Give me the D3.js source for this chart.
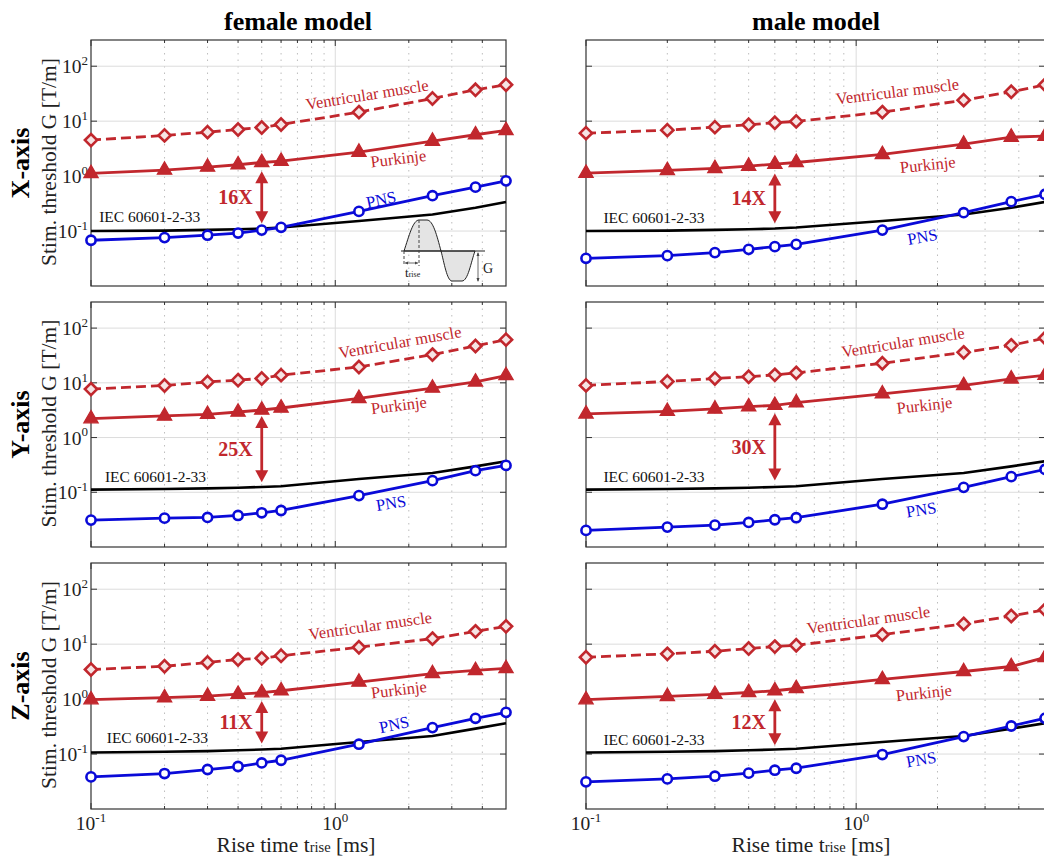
<!DOCTYPE html>
<html lang="en">
  <head>
    <meta charset="utf-8">
    <script src="https://cdn.jsdelivr.net/npm/d3@7/dist/d3.min.js"></script>
    <style>
      body { margin: 0; background: #fff; }
      text { font-family: "Liberation Serif", "Times New Roman", serif; }
    </style>
  </head>
  <body>
    <script type="text/javascript">

      // Data
      var riseTime = [0.1, 0.2, 0.3, 0.4, 0.5, 0.6, 1.25, 2.5, 3.75, 5];
      var models = ["female model", "male model"];
      var axesNames = ["X-axis", "Y-axis", "Z-axis"];
      var xTicks = [0.1, 1];
      var yTicks = [0.1, 1, 10, 100];

      // IEC 60601-2-33 limit, one per gradient axis
      var iecX = [0.100, 0.102, 0.105, 0.108, 0.111, 0.116, 0.152, 0.200, 0.266, 0.338];
      var iecY = [0.112, 0.115, 0.118, 0.121, 0.125, 0.129, 0.175, 0.225, 0.297, 0.370];
      var iecZ = [0.107, 0.110, 0.113, 0.117, 0.121, 0.125, 0.166, 0.213, 0.290, 0.365];

      // female model
      var ventFemX = [4.52, 5.50, 6.31, 7.06, 7.67, 8.71, 14.6, 25.9, 37.2, 45.9];
      var purkFemX = [1.12, 1.29, 1.46, 1.61, 1.77, 1.87, 2.73, 4.33, 5.66, 6.78];
      var pnsFemX  = [0.068, 0.076, 0.084, 0.092, 0.104, 0.117, 0.228, 0.44, 0.63, 0.82];
      var ventFemY = [7.68, 8.95, 10.4, 11.2, 12.0, 13.8, 19.5, 32.8, 47.1, 61.5];
      var purkFemY = [2.21, 2.48, 2.66, 2.93, 3.19, 3.47, 5.20, 8.02, 10.4, 13.6];
      var pnsFemY  = [0.031, 0.0337, 0.0347, 0.0377, 0.0422, 0.0465, 0.087, 0.163, 0.248, 0.310];
      var ventFemZ = [3.46, 3.97, 4.63, 5.26, 5.55, 6.14, 8.79, 12.6, 17.1, 21.1];
      var purkFemZ = [0.975, 1.06, 1.13, 1.23, 1.31, 1.42, 2.04, 2.92, 3.32, 3.61];
      var pnsFemZ  = [0.0384, 0.0442, 0.0523, 0.0593, 0.0689, 0.0771, 0.151, 0.303, 0.447, 0.574];

      // male model
      var ventMalX = [6.05, 6.86, 7.78, 8.61, 9.36, 9.89, 14.6, 24.1, 34.3, 45.9];
      var purkMalX = [1.13, 1.27, 1.38, 1.52, 1.65, 1.77, 2.48, 3.82, 5.12, 5.34];
      var pnsMalX  = [0.0319, 0.0357, 0.0405, 0.0465, 0.052, 0.0573, 0.104, 0.216, 0.343, 0.465];
      var ventMalY = [8.97, 10.6, 12.0, 12.9, 14.0, 15.2, 22.8, 36.1, 48.4, 65.8];
      var purkMalY = [2.70, 3.02, 3.33, 3.66, 3.88, 4.33, 6.31, 8.97, 11.8, 13.8];
      var pnsMalY  = [0.0201, 0.0231, 0.0251, 0.0281, 0.0315, 0.0343, 0.0605, 0.123, 0.193, 0.262];
      var ventMalZ = [5.78, 6.67, 7.43, 8.32, 9.04, 9.55, 14.9, 23.4, 32.6, 42.4];
      var purkMalZ = [0.975, 1.12, 1.22, 1.32, 1.42, 1.56, 2.28, 3.18, 3.92, 5.71];
      var pnsMalZ  = [0.0312, 0.0353, 0.0395, 0.0449, 0.0508, 0.0552, 0.098, 0.208, 0.324, 0.447];

      // safety margin annotation (Purkinje vs IEC at 0.5 ms)
      var ratioLabels = ["16X", "14X", "25X", "30X", "11X", "12X"];
      var arrowTop    = [1.23, 1.12, 2.48, 2.78, 0.92, 0.99];
      var arrowBottom = [0.138, 0.138, 0.152, 0.165, 0.155, 0.145];

      var panelData = [
        [ventFemX, purkFemX, pnsFemX, iecX], [ventMalX, purkMalX, pnsMalX, iecX],
        [ventFemY, purkFemY, pnsFemY, iecY], [ventMalY, purkMalY, pnsMalY, iecY],
        [ventFemZ, purkFemZ, pnsFemZ, iecZ], [ventMalZ, purkMalZ, pnsMalZ, iecZ]
      ];

      // label placement per panel, in data units: [x, y, rotation]
      var labelPos = [
        { vent: [1.35, 30.6, -9], purk: [1.81, 2.1, -7], pns: [1.54, 0.377, -12], iec: [0.108, 0.187] },
        { vent: [1.42, 35, -7],   purk: [1.84, 1.63, -6], pns: [1.76, 0.079, -10], iec: [0.116, 0.175] },
        { vent: [1.84, 55.6, -10], purk: [1.82, 3.93, -7], pns: [1.69, 0.064, -9], iec: [0.114, 0.195] },
        { vent: [1.49, 55.6, -9], purk: [1.79, 3.93, -6], pns: [1.74, 0.0484, -9], iec: [0.116, 0.19] },
        { vent: [1.39, 21.8, -8], purk: [1.82, 1.5, -7], pns: [1.74, 0.347, -12], iec: [0.116, 0.2] },
        { vent: [1.11, 27.9, -8], purk: [1.78, 1.31, -6], pns: [1.74, 0.0805, -10], iec: [0.116, 0.18] }
      ];

      // Visuals
      var svgWidth = 1044;
      var svgHeight = 859;
      var red = "#c1272d";
      var blue = "#0a0ad8";

      var cols = [{ x0: 91, x1: 506 }, { x0: 586, x1: 1045 }];
      var rows = [{ y0: 40, y1: 286 }, { y0: 302, y1: 547 }, { y0: 563, y1: 809 }];

      var svg = d3.select("body")
        .append("svg")
        .attr("width", svgWidth)
        .attr("height", svgHeight);

      var minorX = [0.2, 0.3, 0.4, 0.5, 0.6, 0.7, 0.8, 0.9, 2, 3, 4];

      function sup(sel, base, exp, bs, es) {
        sel.append("tspan").attr("font-size", bs).text(base);
        sel.append("tspan").attr("font-size", es).attr("dy", -bs * 0.42).text(exp);
      }

      function drawPanel(r, c) {
        var k = r * 2 + c;
        var d = panelData[k];
        var lp = labelPos[k];
        var col = cols[c], row = rows[r];

        var x = d3.scaleLog().domain([0.1, 5]).range([col.x0, col.x1]);
        var y = d3.scaleLog().domain([0.01, 300]).range([row.y1, row.y0]);

        var g = svg.append("g");

        // grid
        g.selectAll(".vgrid").data(minorX).enter().append("line")
          .attr("x1", x).attr("x2", x)
          .attr("y1", row.y0).attr("y2", row.y1)
          .attr("stroke", "#bdbdbd").attr("stroke-width", 1)
          .attr("stroke-dasharray", "1.5,5");
        g.append("line")
          .attr("x1", x(1)).attr("x2", x(1))
          .attr("y1", row.y0).attr("y2", row.y1)
          .attr("stroke", "#dcdcdc").attr("stroke-width", 1);
        g.selectAll(".hgrid").data(yTicks).enter().append("line")
          .attr("x1", col.x0).attr("x2", col.x1)
          .attr("y1", y).attr("y2", y)
          .attr("stroke", "#dcdcdc").attr("stroke-width", 1);

        // box and inward ticks
        g.append("rect")
          .attr("x", col.x0).attr("y", row.y0)
          .attr("width", col.x1 - col.x0).attr("height", row.y1 - row.y0)
          .attr("fill", "none").attr("stroke", "#333").attr("stroke-width", 1.2);
        g.selectAll(".ytk").data(yTicks).enter().append("line")
          .attr("x1", col.x0).attr("x2", col.x0 + 6)
          .attr("y1", y).attr("y2", y)
          .attr("stroke", "#333");
        g.selectAll(".ytk2").data(yTicks).enter().append("line")
          .attr("x1", col.x1).attr("x2", col.x1 - 6)
          .attr("y1", y).attr("y2", y)
          .attr("stroke", "#333");
        var allX = minorX.concat(xTicks);
        g.selectAll(".xtk").data(allX).enter().append("line")
          .attr("x1", x).attr("x2", x)
          .attr("y1", row.y1).attr("y2", function(v) { return row.y1 - (xTicks.indexOf(v) >= 0 ? 6 : 3); })
          .attr("stroke", "#333");
        g.selectAll(".xtk2").data(allX).enter().append("line")
          .attr("x1", x).attr("x2", x)
          .attr("y1", row.y0).attr("y2", function(v) { return row.y0 + (xTicks.indexOf(v) >= 0 ? 6 : 3); })
          .attr("stroke", "#333");

        // y tick labels (left column only)
        if (c === 0) {
          yTicks.forEach(function(v) {
            var t = g.append("text")
              .attr("x", col.x0 - 3).attr("y", y(v) + 7)
              .attr("text-anchor", "end").attr("fill", "#222");
            sup(t, "10", String(Math.round(Math.log10(v))), 19.5, 13);
          });
        }
        // x tick labels (bottom row only)
        if (r === 2) {
          xTicks.forEach(function(v) {
            var t = g.append("text")
              .attr("x", x(v)).attr("y", row.y1 + 21)
              .attr("text-anchor", "middle").attr("fill", "#222");
            sup(t, "10", String(Math.round(Math.log10(v))), 19.5, 13);
          });
        }

        var line = d3.line()
          .x(function(p) { return x(p[0]); })
          .y(function(p) { return y(p[1]); });
        function pts(vals) { return riseTime.map(function(t, i) { return [t, vals[i]]; }); }

        // IEC limit
        g.append("path").attr("d", line(pts(d[3])))
          .attr("fill", "none").attr("stroke", "#000").attr("stroke-width", 2.6);

        // ventricular muscle, dashed with open diamonds
        g.append("path").attr("d", line(pts(d[0])))
          .attr("fill", "none").attr("stroke", red).attr("stroke-width", 2.8)
          .attr("stroke-dasharray", "10,5");
        g.selectAll(".dia").data(pts(d[0])).enter().append("path")
          .attr("d", d3.symbol().type(d3.symbolDiamond2).size(95))
          .attr("transform", function(p) { return "translate(" + x(p[0]) + "," + y(p[1]) + ")"; })
          .attr("fill", "#f6e4e4").attr("stroke", red).attr("stroke-width", 2.6);

        // Purkinje, filled triangles
        g.append("path").attr("d", line(pts(d[1])))
          .attr("fill", "none").attr("stroke", red).attr("stroke-width", 2.8);
        g.selectAll(".tri").data(pts(d[1])).enter().append("path")
          .attr("d", d3.symbol().type(d3.symbolTriangle).size(90))
          .attr("transform", function(p) { return "translate(" + x(p[0]) + "," + y(p[1]) + ")"; })
          .attr("fill", red).attr("stroke", red).attr("stroke-width", 1.2);

        // PNS, open circles
        g.append("path").attr("d", line(pts(d[2])))
          .attr("fill", "none").attr("stroke", blue).attr("stroke-width", 2.8);
        g.selectAll(".circ").data(pts(d[2])).enter().append("circle")
          .attr("cx", function(p) { return x(p[0]); })
          .attr("cy", function(p) { return y(p[1]); })
          .attr("r", 4.6)
          .attr("fill", "#fff").attr("stroke", blue).attr("stroke-width", 2.6);

        // series labels
        function label(pos, txt, color) {
          g.append("text")
            .attr("transform", "translate(" + x(pos[0]) + "," + y(pos[1]) + ") rotate(" + pos[2] + ")")
            .attr("text-anchor", "middle").attr("dy", "0.35em")
            .attr("font-size", 16.5).attr("fill", color).text(txt);
        }
        label(lp.vent, "Ventricular muscle", red);
        label(lp.purk, "Purkinje", red);
        label(lp.pns, "PNS", blue);
        g.append("text")
          .attr("x", x(lp.iec[0])).attr("y", y(lp.iec[1])).attr("dy", "0.35em")
          .attr("font-size", 15.5).attr("fill", "#111").text("IEC 60601-2-33");

        // ratio arrow at 0.5 ms
        var ax = x(0.5), ay0 = y(arrowTop[k]), ay1 = y(arrowBottom[k]);
        g.append("line")
          .attr("x1", ax).attr("x2", ax).attr("y1", ay0 + 8).attr("y2", ay1 - 8)
          .attr("stroke", red).attr("stroke-width", 2.8);
        g.append("path")
          .attr("d", "M" + ax + "," + ay0 + " l-6.5,12 l13,0 Z")
          .attr("fill", red);
        g.append("path")
          .attr("d", "M" + ax + "," + ay1 + " l-6.5,-12 l13,0 Z")
          .attr("fill", red);
        g.append("text")
          .attr("x", ax - 9).attr("y", (ay0 + ay1) / 2).attr("dy", "0.35em")
          .attr("text-anchor", "end").attr("font-size", 20).attr("font-weight", "bold")
          .attr("fill", red).text(ratioLabels[k]);

        // pulse sketch in the first panel
        if (k === 0) {
          var s = svg.append("g");
          s.append("path")
            .attr("d", "M404,251 C409,236 413,220 419,220 L427,220 C433,220 437,236 441,251 C444,262 447,281 452,281 L462,281 C468,281 471,262 475,251 Z")
            .attr("fill", "#e4e4e4").attr("stroke", "#222").attr("stroke-width", 1);
          s.append("line").attr("x1", 401).attr("x2", 485).attr("y1", 251).attr("y2", 251)
            .attr("stroke", "#222").attr("stroke-width", 1.2);
          s.append("line").attr("x1", 404).attr("x2", 404).attr("y1", 251).attr("y2", 266)
            .attr("stroke", "#444").attr("stroke-dasharray", "3,2");
          s.append("line").attr("x1", 419).attr("x2", 419).attr("y1", 220).attr("y2", 266)
            .attr("stroke", "#444").attr("stroke-dasharray", "3,2");
          s.append("line").attr("x1", 405).attr("x2", 418).attr("y1", 263).attr("y2", 263)
            .attr("stroke", "#444").attr("stroke-width", 0.8);
          s.append("path").attr("d", "M405,263 l3,-1.5 l0,3 Z M418,263 l-3,-1.5 l0,3 Z").attr("fill", "#444");
          var tt = s.append("text").attr("x", 405).attr("y", 277).attr("fill", "#222");
          tt.append("tspan").attr("font-size", 13).text("t");
          tt.append("tspan").attr("font-size", 8).text("rise");
          s.append("line").attr("x1", 478).attr("x2", 478).attr("y1", 253).attr("y2", 281)
            .attr("stroke", "#444").attr("stroke-width", 0.8);
          s.append("path").attr("d", "M478,252 l-1.5,4 l3,0 Z M478,282 l-1.5,-4 l3,0 Z").attr("fill", "#444");
          s.append("text").attr("x", 483).attr("y", 273).attr("font-size", 14).attr("fill", "#222").text("G");
        }
      }

      for (var r = 0; r < 3; r++) {
        for (var c = 0; c < 2; c++) drawPanel(r, c);
      }

      // column titles
      svg.selectAll(".title").data(models).enter().append("text")
        .attr("x", function(m, i) { return i === 0 ? 298 : 816; })
        .attr("y", 30)
        .attr("text-anchor", "middle").attr("font-size", 26).attr("font-weight", "bold")
        .attr("fill", "#000").text(function(m) { return m; });

      // row labels
      rows.forEach(function(row, i) {
        var cy = (row.y0 + row.y1) / 2;
        svg.append("text")
          .attr("transform", "translate(29," + cy + ") rotate(-90)")
          .attr("text-anchor", "middle").attr("font-size", 26).attr("font-weight", "bold")
          .attr("fill", "#000").text(axesNames[i]);
        svg.append("text")
          .attr("transform", "translate(56," + (cy - 1) + ") rotate(-90)")
          .attr("text-anchor", "middle").attr("font-size", 21.5)
          .attr("fill", "#222").text("Stim. threshold G [T/m]");
      });

      // x axis titles
      cols.forEach(function(col, i) {
        var cx = i === 0 ? 296 : 811;
        var t = svg.append("text")
          .attr("x", cx).attr("y", 852)
          .attr("text-anchor", "middle").attr("fill", "#222");
        t.append("tspan").attr("font-size", 21.5).text("Rise time t");
        t.append("tspan").attr("font-size", 14.5).text("rise");
        t.append("tspan").attr("font-size", 21.5).text(" [ms]");
      });
    </script>
  </body>
</html>
